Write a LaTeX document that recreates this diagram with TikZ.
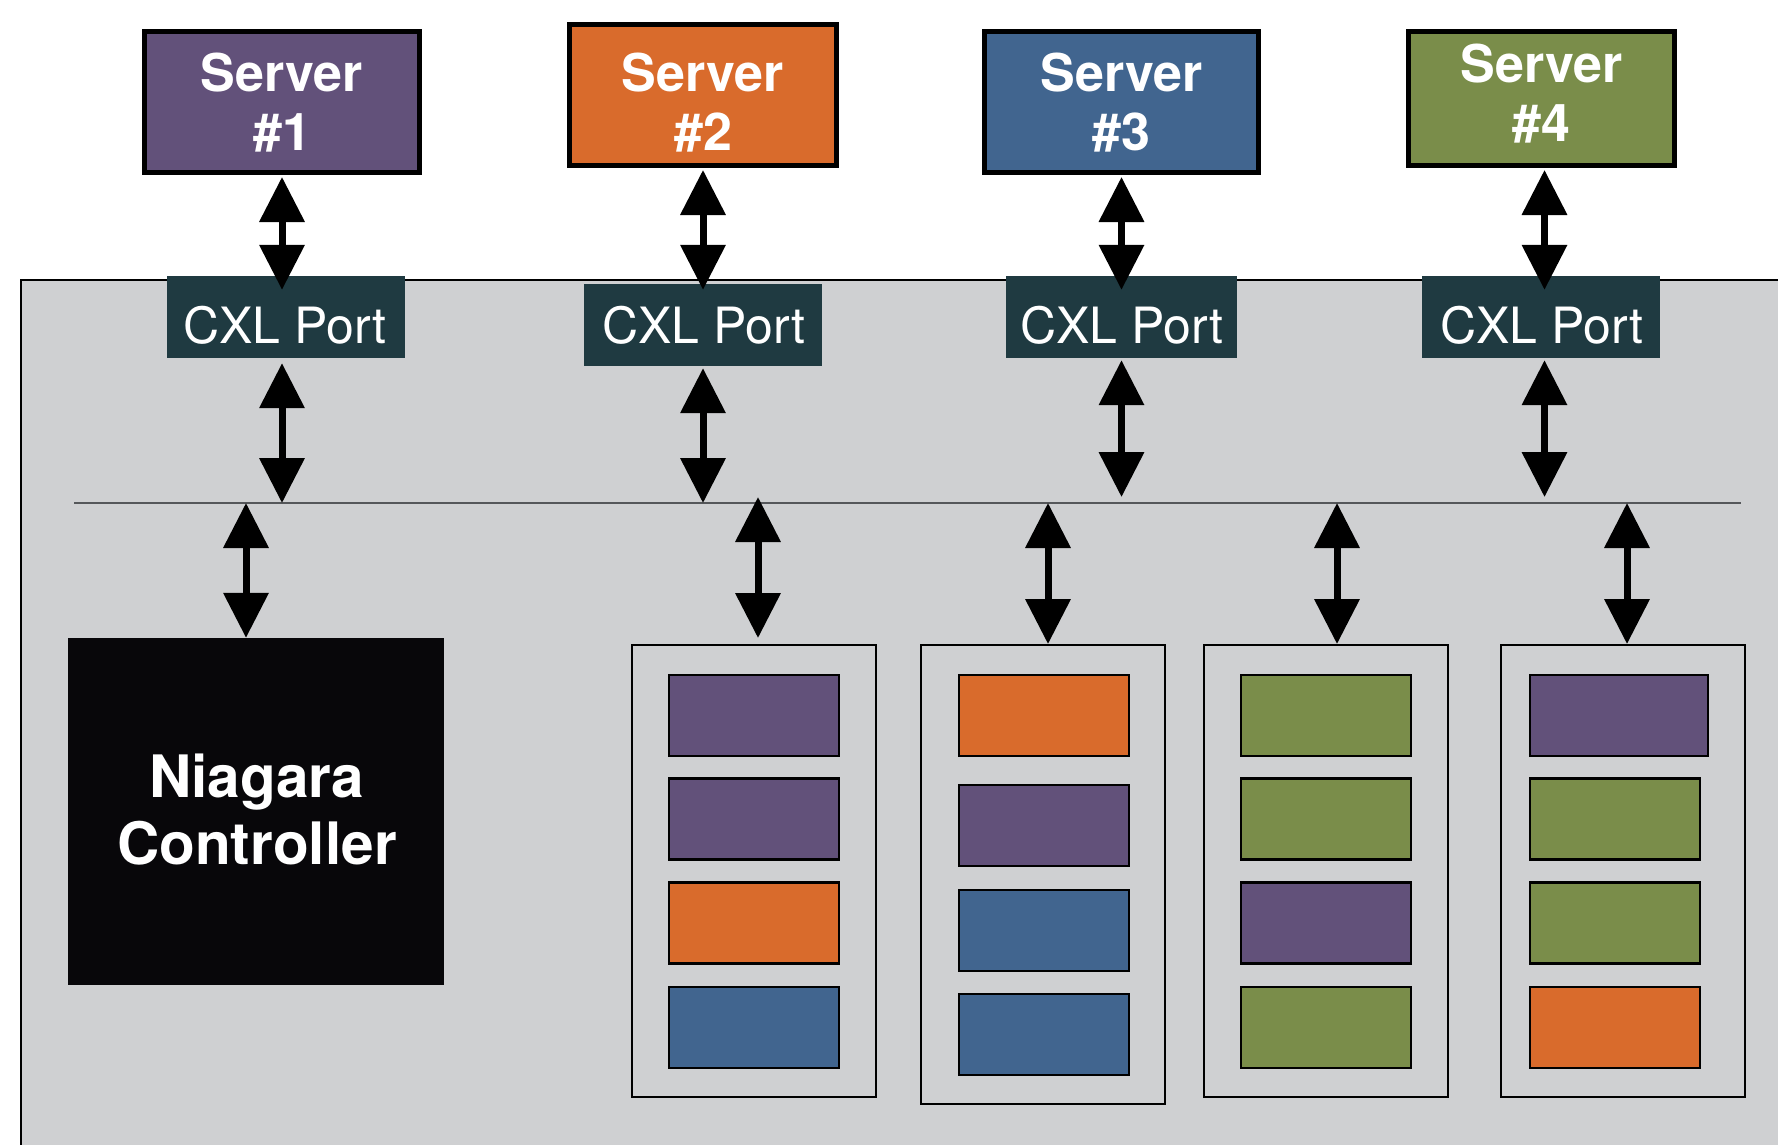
\documentclass[tikz,border=0pt]{standalone}
\usepackage{fontspec}
\setmainfont{TeX Gyre Heros}
\usetikzlibrary{arrows.meta}
\definecolor{srvpurple}{HTML}{62517A}
\definecolor{srvorange}{HTML}{D96B2C}
\definecolor{srvblue}{HTML}{41658F}
\definecolor{srvgreen}{HTML}{7A8D4A}
\definecolor{portteal}{HTML}{1F3A41}
\definecolor{panelgray}{HTML}{CFD0D2}
\definecolor{busgray}{HTML}{55575A}
\definecolor{ctrlblack}{HTML}{08070A}
\begin{document}
\begin{tikzpicture}[x=1pt,y=-1pt,
  server/.style={draw=black, line width=5pt, inner sep=0pt, minimum height=141pt},
  srvtext/.style={text=white, font=\fontsize{52}{59}\selectfont\bfseries, align=center, inner sep=0pt},
  port/.style={fill=portteal, inner sep=0pt, minimum height=82pt},
  porttext/.style={text=white, font=\fontsize{50}{56}\selectfont, inner sep=0pt, anchor=base},
  module/.style={draw=black, line width=2pt, inner sep=0pt, minimum width=244pt},
  chip/.style={draw=black, line width=2.5pt, inner sep=0pt, minimum width=170pt, minimum height=81pt},
  biarrow/.style={line width=7pt, {Triangle[width=44pt,length=45pt]}-{Triangle[width=44pt,length=45pt]}},
]
\useasboundingbox (0,0) rectangle (1778,1145);
\clip (0,0) rectangle (1778,1145);

% chassis panel
\fill[panelgray] (21,280) rectangle (1800,1160);
\draw[line width=2pt] (1800,280) -- (21,280) -- (21,1160);

% CXL ports
\node[port, minimum width=238pt] (p1) at (286,317) {};
\node[port, minimum width=238pt] (p2) at (703,325) {};
\node[port, minimum width=231pt] (p3) at (1121.5,317) {};
\node[port, minimum width=238pt] (p4) at (1541,317) {};
\node[porttext] (pt1) at (285,343) {CXL Port};
\node[porttext] (pt2) at (704,343) {CXL Port};
\node[porttext] (pt3) at (1122,343) {CXL Port};
\node[porttext] (pt4) at (1542,343) {CXL Port};

% servers
\node[server, fill=srvpurple, minimum width=275pt] (s1) at (282,102) {};
\node[server, fill=srvorange, minimum width=267pt] (s2) at (703,95) {};
\node[server, fill=srvblue, minimum width=274pt] (s3) at (1121.5,102) {};
\node[server, fill=srvgreen, minimum width=266pt, minimum height=134pt] (s4) at (1541.5,98.5) {};
\node[srvtext] (st1) at (282,103) {Server\\\#1};
\node[srvtext] (st2) at (703,103) {Server\\\#2};
\node[srvtext] (st3) at (1121.5,103) {Server\\\#3};
\node[srvtext] (st4) at (1541.5,94) {Server\\\#4};

% internal bus
\coordinate (busL) at (74,503);
\coordinate (busR) at (1741,503);
\draw[busgray, line width=2.5pt] (busL) -- (busR);

% controller
\node[fill=ctrlblack, inner sep=0pt, minimum width=376pt, minimum height=347pt] (nc) at (256,811.5) {};
\node[text=white, font=\fontsize{58.5}{67}\selectfont\bfseries, align=center, inner sep=0pt] (nct) at (257,810) {Niagara\\Controller};

% memory modules
\node[module, minimum height=452pt] (m1) at (754,871) {};
\node[module, minimum height=459pt] (m2) at (1043,874.5) {};
\node[module, minimum height=452pt] (m3) at (1326,871) {};
\node[module, minimum height=452pt] (m4) at (1623,871) {};

\node[chip, fill=srvpurple] (c11) at (754,715.5) {};
\node[chip, fill=srvpurple] (c12) at (754,819) {};
\node[chip, fill=srvorange] (c13) at (754,923) {};
\node[chip, fill=srvblue]   (c14) at (754,1027.5) {};

\node[chip, fill=srvorange] (c21) at (1044,715.5) {};
\node[chip, fill=srvpurple] (c22) at (1044,825.5) {};
\node[chip, fill=srvblue]   (c23) at (1044,930.5) {};
\node[chip, fill=srvblue]   (c24) at (1044,1034.5) {};

\node[chip, fill=srvgreen]  (c31) at (1326,715.5) {};
\node[chip, fill=srvgreen]  (c32) at (1326,819) {};
\node[chip, fill=srvpurple] (c33) at (1326,923) {};
\node[chip, fill=srvgreen]  (c34) at (1326,1027.5) {};

\node[chip, fill=srvpurple, minimum width=178pt] (c41) at (1619,715.5) {};
\node[chip, fill=srvgreen]  (c42) at (1615,819) {};
\node[chip, fill=srvgreen]  (c43) at (1615,923) {};
\node[chip, fill=srvorange] (c44) at (1615,1027.5) {};

% server <-> port links
\draw[biarrow] ([yshift=-2pt]s1.south) -- ([yshift=-14pt]s1.south |- p1.north);
\draw[biarrow] ([yshift=-2pt]s2.south) -- ([yshift=-6pt]p2.north);
\draw[biarrow] ([yshift=-2pt]s3.south) -- ([yshift=-14pt]p3.north);
\draw[biarrow] ([yshift=-2pt,xshift=3pt]s4.south) -- ([yshift=-14pt,xshift=3pt]s4.south |- p4.north);

% port <-> bus links
\draw[biarrow] ([yshift=-5pt]s1.south |- p1.south) -- (s1.south |- busL);
\draw[biarrow] ([yshift=-2pt]p2.south) -- (p2.south |- busL);
\draw[biarrow] ([yshift=-2pt]p3.south) -- ([yshift=6pt]p3.south |- busL);
\draw[biarrow] ([yshift=-2pt,xshift=3pt]s4.south |- p4.south) -- ([yshift=6pt,xshift=3pt]s4.south |- busL);

% bus <-> controller and modules
\draw[biarrow] ([xshift=-10pt]nc.north |- busL) -- ([xshift=-10pt]nc.north);
\draw[biarrow] ([xshift=4pt,yshift=6pt]m1.north |- busL) -- ([xshift=4pt,yshift=6pt]m1.north);
\draw[biarrow] ([xshift=5pt]m2.north |- busL) -- ([xshift=5pt]m2.north);
\draw[biarrow] ([xshift=11pt]m3.north |- busL) -- ([xshift=11pt]m3.north);
\draw[biarrow] ([xshift=4pt]m4.north |- busL) -- ([xshift=4pt]m4.north);
\end{tikzpicture}
\end{document}
